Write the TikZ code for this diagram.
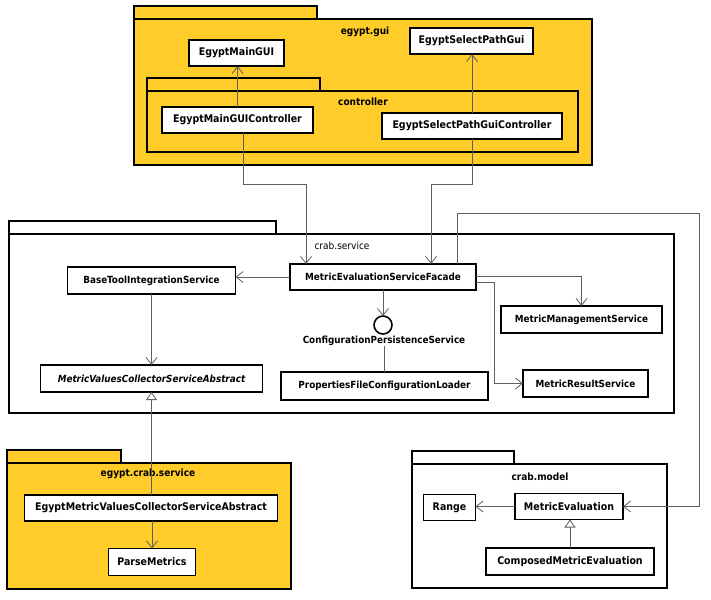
\documentclass[tikz,border=0pt]{standalone}
\usepackage{fontspec}
\setmainfont{DejaVu Sans Condensed}
\usetikzlibrary{positioning,arrows.meta}
\definecolor{pkgyellow}{RGB}{255,204,41}
\definecolor{linkgray}{RGB}{95,95,95}
\tikzset{
  pkg/.style    ={rectangle, draw=black, line width=1.4pt, fill=pkgyellow, inner sep=0pt, outer sep=0pt},
  pkgw/.style   ={pkg, fill=white},
  pkglbl/.style ={inner sep=0pt, font=\fontsize{10}{12}\selectfont\bfseries},
  cls/.style    ={rectangle, draw=black, line width=1.6pt, fill=white, inner sep=0pt, outer sep=0pt,
                  minimum height=26, font=\fontsize{10.5}{12}\selectfont\bfseries},
  clss/.style   ={cls, font=\fontsize{9.8}{12}\selectfont\bfseries},
  iface/.style  ={circle, draw=black, line width=1.6pt, fill=white, minimum size=18, inner sep=0pt, outer sep=0pt},
  dep/.style    ={-{Straight Barb[length=7pt,width=11pt]}, line width=0.8pt, draw=linkgray},
  gen/.style    ={-{Triangle[open,length=8pt,width=11pt,fill=white]}, line width=0.8pt, draw=linkgray},
  lnk/.style    ={line width=0.8pt, draw=linkgray},
}
\begin{document}
\begin{tikzpicture}[x=1pt, y=-1pt]
\useasboundingbox (0,0) rectangle (711,599);
% packages
\node[pkg, anchor=north west, minimum width=458, minimum height=146] (guipkg) at (134,19) {};
\node[pkg, anchor=south west, minimum width=183, minimum height=13] (guitab) at (guipkg.north west) {};
\node[pkglbl] (guilbl) at (365,32) {egypt.gui};
\node[pkg, anchor=north west, minimum width=431, minimum height=61] (ctrlpkg) at (147,91) {};
\node[pkg, anchor=south west, minimum width=173, minimum height=13] (ctrltab) at (ctrlpkg.north west) {};
\node[pkglbl] (ctrllbl) at (363,102) {controller};
\node[pkgw, anchor=north west, minimum width=665, minimum height=179] (srvpkg) at (9,234) {};
\node[pkgw, anchor=south west, minimum width=267, minimum height=13] (srvtab) at (srvpkg.north west) {};
\node[pkglbl, font=\fontsize{10}{12}\selectfont] (srvlbl) at (342,246) {crab.service};
\node[pkg, anchor=north west, minimum width=284, minimum height=126] (ecspkg) at (7,463) {};
\node[pkg, anchor=south west, minimum width=114, minimum height=13] (ecstab) at (ecspkg.north west) {};
\node[pkglbl] (ecslbl) at (148,474) {egypt.crab.service};
\node[pkgw, anchor=north west, minimum width=255, minimum height=124] (mdlpkg) at (412,464) {};
\node[pkgw, anchor=south west, minimum width=102, minimum height=13] (mdltab) at (mdlpkg.north west) {};
\node[pkglbl] (mdllbl) at (540,477) {crab.model};
% classes
\node[cls, minimum width=95] (maingui) at (236.5,53) {EgyptMainGUI};
\node[cls, minimum width=123] (selectgui) at (471.5,41) {EgyptSelectPathGui};
\node[cls, minimum width=151] (mainctrl) at (237.5,120) {EgyptMainGUIController};
\node[cls, minimum width=180] (selectctrl) at (472,126) {EgyptSelectPathGuiController};
\node[clss, minimum width=186] (facade) at (383,277) {MetricEvaluationServiceFacade};
\node[clss, minimum width=168, minimum height=27] (basetool) at (151.5,280.5) {BaseToolIntegrationService};
\node[clss, minimum width=222, minimum height=27] (collector) at (151.5,378.5) {\itshape MetricValuesCollectorServiceAbstract};
\node[iface] (cps) at (383,325) {};
\node[pkglbl, font=\fontsize{9.8}{12}\selectfont\bfseries] (cpslbl) at (384,341) {ConfigurationPersistenceService};
\node[clss, minimum width=207, minimum height=28] (props) at (384.5,386) {PropertiesFileConfigurationLoader};
\node[clss, minimum width=161, minimum height=27] (mgmt) at (581.5,319.5) {MetricManagementService};
\node[clss, minimum width=125, minimum height=27] (result) at (585.5,383.5) {MetricResultService};
\node[cls, minimum width=253] (egyptcoll) at (151,508) {EgyptMetricValuesCollectorServiceAbstract};
\node[cls, minimum width=87, minimum height=27] (parse) at (152,562) {ParseMetrics};
\node[cls, minimum width=52] (range) at (449.5,507.5) {Range};
\node[cls, minimum width=108] (meval) at (569,506.5) {MetricEvaluation};
\node[cls, minimum width=168, minimum height=27] (composed) at (570,561.5) {ComposedMetricEvaluation};
% connectors
\coordinate (busL) at (306,184);
\coordinate (busR) at (431,184);
\coordinate (busTop) at (699,213);
\foreach \src/\dst in {mainctrl/maingui,selectctrl/selectgui} \draw[dep] (\src.north) -- (\src.north |- \dst.south);
\draw[dep] ([xshift=5.5pt]mainctrl.south) |- (busL) -- (busL |- facade.north);
\draw[dep] (selectctrl.south) |- (busR) -- (busR |- facade.north);
\draw[dep] ([xshift=74pt]facade.north) |- (busTop) |- (meval.east);
\draw[dep] (facade.west) -- (facade.west -| basetool.east);
\draw[dep] (basetool.south) -- (basetool.south |- collector.north);
\draw[dep] (facade.south) -- (cps.north);
\draw[lnk] (cpslbl.south) -- (cpslbl.south |- props.north);
\draw[dep] ([yshift=1pt]facade.east) -| (mgmt.north);
\draw[dep] ([yshift=-5pt]facade.east) -- ++(18,0) |- (result.west);
\draw[dep] (meval.west) -- (meval.west -| range.east);
\draw[dep] (parse.north |- egyptcoll.south) -- (parse.north);
\draw[gen] (collector.south |- egyptcoll.north) -- (collector.south);
\draw[gen] (composed.north) -- (composed.north |- meval.south);
\end{tikzpicture}
\end{document}
